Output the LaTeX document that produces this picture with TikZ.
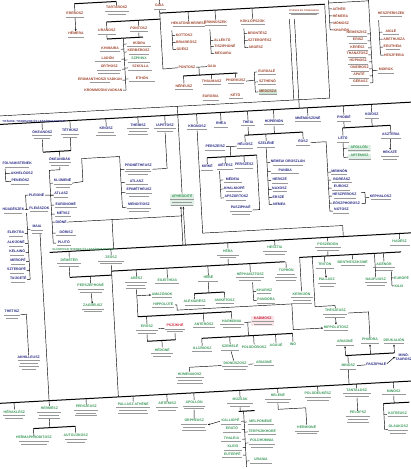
\documentclass[tikz,border=0pt]{standalone}
\usepackage{fontspec}
\setmainfont{Liberation Sans}
\usetikzlibrary{arrows.meta,positioning,calc}
\definecolor{osbarna}{RGB}{158,68,44}
\definecolor{titankek}{RGB}{38,40,130}
\definecolor{olzold}{RGB}{58,152,88}
\definecolor{szerpiros}{RGB}{206,36,62}
\newcommand{\ds}[1]{\\[-1pt]{\color{black!40}\rule{#1pt}{0.8pt}}}

\begin{document}
\begin{tikzpicture}[x=1pt,y=-1pt,
  nev/.style={font=\fontsize{3.5}{3.9}\selectfont\bfseries, inner sep=0.4pt, align=center},
  os/.style={nev, text=osbarna},
  ti/.style={nev, text=titankek},
  ol/.style={nev, text=olzold},
  pir/.style={nev, text=szerpiros},
  kiem/.style={fill=olzold!15},
  felirat/.style={font=\fontsize{2.8}{3}\selectfont\bfseries, inner sep=0.5pt, anchor=south west},
  ag/.style={line width=1pt},
  vonal/.style={line width=0.45pt},
  >={Stealth[length=2pt,width=1.8pt]}
  ]
\useasboundingbox (0,0) rectangle (411,469);
\clip (0,0) rectangle (411,469);
\begin{scope}[rotate around={3.1:(205,235)}]
% sorok
\coordinate (felsosor) at (0,-3);
\coordinate (uranoszsor) at (0,11);
\coordinate (gaiasor) at (0,17);
\coordinate (szornysor) at (0,34);
\coordinate (szornytorzs) at (134,0);
\coordinate (felsovonal) at (0,105);
\coordinate (titansor) at (0,113.5);
\coordinate (olvonal) at (0,244);
\coordinate (alsovonal) at (0,392);

% --- ősök ---
\draw[ag] (87,-3) -- (129,-3);
\node[os] (erebosz) at (87,8) {EREBOSZ\ds{18}};
\node[os] (tartarosz) at (129,6) {TARTAROSZ\ds{24}\ds{18}};
\node[os] (hemera) at (87,28) {HÉMERA\ds{16}};
\node[os] (gaia) at (172,5) {GAIA\ds{12}};
\draw[vonal] (erebosz.north |- felsosor) -- (erebosz.north);
\draw[vonal] (tartarosz.north |- felsosor) -- (tartarosz.north);
\draw[vonal,->] (erebosz) -- (hemera);
\draw[vonal] (gaia.north) -- ++(0,-12);

\node[os] (uranosz) at (118,27) {URANOSZ\ds{18}};
\node[os] (pontosz) at (150,26) {PONTOSZ\ds{18}};
\draw[ag] (uranosz.north |- gaiasor) -- (gaia.south |- gaiasor);
\draw[vonal] (uranosz.north |- gaiasor) -- (uranosz.north);
\draw[vonal] (pontosz.north |- gaiasor) -- (pontosz.north);
\draw[ag] (uranosz.south |- szornysor) -- (154,34);
\draw[vonal] (uranosz.south) -- (uranosz.south |- szornysor);
\draw[vonal] (pontosz.south) -- (pontosz.south |- szornysor);
\draw[vonal] (szornytorzs |- szornysor) -- (134,86);

\node[os, anchor=east] (khimaira) at (131,45) {KHIMAIRA\ds{20}};
\node[os, anchor=east] (ladon) at (131,55) {LADÓN\ds{26}};
\node[os, anchor=east] (orthosz) at (131,65) {ORTHOSZ\ds{24}\ds{22}};
\node[os, anchor=east] (erumanthosz) at (131,76) {ERÜMANTHOSZI VADKAN\ds{20}};
\node[os, anchor=east] (krommuon) at (131,86) {KROMMÜÓNI VADKAN};
\node[os, anchor=west] (hudra) at (137,40) {HÜDRA\ds{24}};
\node[os, anchor=west] (kerberosz) at (137,48) {KERBEROSZ\ds{20}};
\node[ol, anchor=west] (szphinx) at (137,56) {SZPHINX\ds{22}};
\node[os, anchor=west] (szkulla) at (137,64) {SZKÜLLA\ds{24}};
\node[os, anchor=west] (ethon) at (137,75) {ETHÓN\ds{26}};
\draw[vonal] (khimaira.east) -- (khimaira.east -| szornytorzs);
\draw[vonal] (ladon.east) -- (ladon.east -| szornytorzs);
\draw[vonal] (orthosz.east) -- (orthosz.east -| szornytorzs);
\draw[vonal] (erumanthosz.east) -- (erumanthosz.east -| szornytorzs);
\draw[vonal] (krommuon.east) -- (krommuon.east -| szornytorzs);
\draw[vonal] (hudra.west) -- (hudra.west -| szornytorzs);
\draw[vonal] (kerberosz.west) -- (kerberosz.west -| szornytorzs);
\draw[vonal] (szphinx.west) -- (szphinx.west -| szornytorzs);
\draw[vonal] (szkulla.west) -- (szkulla.west -| szornytorzs);
\draw[vonal] (ethon.west) -- (ethon.west -| szornytorzs);

% Gaia és Uranosz gyermekei
\node[os] (hekaton) at (200,24) {HEKATONKHEIRESZ\ds{32}};
\node[os, anchor=west] (kottosz) at (186,34) {KOTTOSZ};
\node[os, anchor=west] (briareosz) at (186,41) {BRIAREÓSZ};
\node[os, anchor=west] (guesz) at (186,48) {GÜÉSZ};
\draw[vonal] (183,29) -- (183,48);
\draw[vonal] (183,34) -- (kottosz.west);
\draw[vonal] (183,41) -- (briareosz.west);
\draw[vonal] (183,48) -- (guesz.west);
\node[os] (erinnuszek) at (227,24) {ERINNÜSZEK\ds{22}};
\node[os, anchor=west] (allekto) at (224,41) {ALLÉKTÓ};
\node[os, anchor=west] (tisziphone) at (224,47) {TISZIPHONÉ};
\node[os, anchor=west] (megaira) at (224,54) {MEGAIRA};
\draw[vonal] (221,30) -- (221,54) -- (megaira.west);
\draw[vonal] (221,41) -- (allekto.west);
\draw[vonal] (221,47) -- (tisziphone.west);
\node[os] (kuklopszok) at (264,25) {KÜKLÓPSZOK\ds{24}};
\node[os, anchor=west] (brontesz) at (258,36) {BRONTÉSZ};
\node[os, anchor=west] (szteropesz) at (258,43) {SZTEROPÉSZ};
\node[os, anchor=west] (argesz) at (258,50) {ARGÉSZ};
\draw[vonal] (255,31) -- (255,50) -- (argesz.west);
\draw[vonal] (255,36) -- (brontesz.west);
\draw[vonal] (255,43) -- (szteropesz.west);
\node[os, font=\fontsize{2.3}{2.7}\selectfont\bfseries] (titanok) at (316,18) {TITÁNOK ÉS TITANISSZOK\ds{30}\ds{26}};
\draw[ag] (gaia.south |- uranoszsor) -- (337,11);
\draw[vonal] (hekaton.north |- uranoszsor) -- (hekaton.north);
\draw[vonal] (erinnuszek.north |- uranoszsor) -- (erinnuszek.north);
\draw[vonal] (kuklopszok.north |- uranoszsor) -- (kuklopszok.north);
\draw[vonal] (337,11) -- (337,105) -- (-12,105);
\draw[vonal] (301,24) -- (301,105);
\draw[vonal] (306,24) -- (306,113.5);

% Pontosz és Gaia
\node[os] (pontosz2) at (196,67) {PONTOSZ};
\node[os] (gaia2) at (221,67) {GAIA};
\draw[vonal] (gaia.south) -- (172,67) -- (pontosz2.west);
\draw[vonal] (pontosz2) -- (gaia2);
\draw[ag] (192,75) -- (246,75);
\draw[vonal] (208,67) -- (208,75);
\node[os] (nereusz) at (192,86) {NÉREUSZ\ds{18}};
\node[os] (thaumasz) at (220,83) {THAUMASZ\ds{18}};
\node[os] (phorkusz) at (244,83) {PHORKÜSZ\ds{16}};
\node[os] (eurubia) at (218,98) {EURÜBIA\ds{16}};
\node[os] (keto) at (243,98) {KÉTÓ\ds{14}};
\draw[vonal] (nereusz.north |- 0,75) -- (nereusz.north);
\draw[vonal] (thaumasz.north |- 0,75) -- (thaumasz.north);
\draw[vonal] (phorkusz.north |- 0,75) -- (phorkusz.north);
\node[os, anchor=west] (euriale) at (266,75) {EURÜALÉ\ds{18}};
\node[os, anchor=west] (szthenno) at (266,85) {SZTHENÓ\ds{18}};
\node[os, anchor=west, fill=olzold!25] (meduza) at (266,95) {MEDÚSZA\ds{18}};
\draw[vonal] (263,75) -- (263,95);
\draw[vonal] (phorkusz.east) -- (263,83);
\draw[vonal] (263,75) -- (euriale.west);
\draw[vonal] (263,85) -- (szthenno.west);
\draw[vonal] (263,95) -- (meduza.west);

% Nüx
\draw[vonal] (341,-12) -- (341,10) -- (381,10) -- (381,-12);
\node[os, anchor=west] (aither) at (344,16) {AITHÉR};
\node[os, anchor=west] (hemera2) at (344,23) {HÉMERA};
\node[os, anchor=west] (momosz) at (344,30) {MÓMOSZ};
\node[os, anchor=west] (kharon) at (344,37) {KHARÓN};
\draw[vonal] (341,10) -- (341,37) -- (kharon.west);
\draw[vonal] (341,16) -- (aither.west);
\draw[vonal] (341,23) -- (hemera2.west);
\draw[vonal] (341,30) -- (momosz.west);
\node[os, anchor=east] (nemeszisz) at (378,43) {NEMESZISZ\ds{20}};
\node[os, anchor=east] (erisz) at (378,50) {ERISZ\ds{18}};
\node[os, anchor=east] (keresz) at (378,57) {KÉRÉSZ\ds{20}};
\node[os, anchor=east] (thanatosz) at (378,64) {THANATOSZ\ds{18}};
\node[os, anchor=east] (hupnosz) at (378,71) {HÜPNOSZ\ds{20}};
\node[os, anchor=east] (oneirosz) at (378,78) {ONEIROSZ\ds{18}};
\node[os, anchor=east] (apate) at (378,85) {APATÉ\ds{20}};
\node[os, anchor=east] (gerasz) at (378,92) {GÉRASZ\ds{18}};
\draw[vonal] (381,10) -- (381,92) -- (gerasz.east);
\draw[vonal] (381,43) -- (nemeszisz.east);
\draw[vonal] (381,50) -- (erisz.east);
\draw[vonal] (381,57) -- (keresz.east);
\draw[vonal] (381,64) -- (thanatosz.east);
\draw[vonal] (381,71) -- (hupnosz.east);
\draw[vonal] (381,78) -- (oneirosz.east);
\draw[vonal] (381,85) -- (apate.east);
\node[os, anchor=west] (moirak) at (386,80) {MOIRÁK\ds{16}};
\draw[vonal] (381,80) -- (moirak.west);
\node[os] (heszperiszek) at (403,25) {HESZPERISZEK\ds{22}};
\node[os, anchor=west] (aigle) at (393,42) {AIGLÉ\ds{16}};
\node[os, anchor=west] (arethusza) at (393,49) {ARETHUSZA};
\node[os, anchor=west] (erutheia) at (393,57) {ERÜTHEIA\ds{14}};
\node[os, anchor=west] (heszperia) at (393,65) {HESZPERIA};
\draw[vonal] (390,30) -- (390,65) -- (heszperia.west);
\draw[vonal] (390,42) -- (aigle.west);
\draw[vonal] (390,49) -- (arethusza.west);
\draw[vonal] (390,57) -- (erutheia.west);

% --- titánok ---
\draw[ag] (-12,113.5) -- (430,113.5);
\node[ti, felirat] (titanfelirat) at (8,112.5) {TITÁNOK, TITANISZOK ÉS LESZÁRMAZOTTAIK};
\node[ti] (okeanosz) at (48,126) {ÓKEANOSZ\ds{20}\ds{16}};
\node[ti] (tethusz) at (76,126) {TÉTHÜSZ\ds{18}\ds{14}};
\node[ti] (kriosz) at (112,126) {KRIOSZ\ds{16}\ds{20}};
\node[ti] (themisz) at (144,126) {THEMISZ\ds{22}\ds{18}\ds{20}};
\node[ti] (iapetosz) at (171,126) {IAPETOSZ\ds{22}\ds{16}};
\node[ti] (kronosz) at (203,127) {KRONOSZ\ds{20}};
\node[ti] (rhea) at (227,126) {RHEA\ds{14}};
\node[ti] (theia) at (254,126) {THEIA\ds{14}};
\node[ti] (huperion) at (280,126) {HÜPERIÓN\ds{20}};
\node[ti] (mnemoszune) at (314,125) {MNÉMOSZÜNÉ\ds{26}};
\node[ti] (phoibe) at (350,126) {PHOIBÉ\ds{14}};
\node[ti] (koiosz) at (378,125) {KOIOSZ\ds{14}};
\draw[vonal] (okeanosz.north |- titansor) -- (okeanosz.north);
\draw[vonal] (tethusz.north |- titansor) -- (tethusz.north);
\draw[vonal] (kriosz.north |- titansor) -- (kriosz.north);
\draw[vonal] (themisz.north |- titansor) -- (themisz.north);
\draw[vonal] (iapetosz.north |- titansor) -- (iapetosz.north);
\draw[vonal] (kronosz.north |- titansor) -- (kronosz.north);
\draw[vonal] (rhea.north |- titansor) -- (rhea.north);
\draw[vonal] (theia.north |- titansor) -- (theia.north);
\draw[vonal] (huperion.north |- titansor) -- (huperion.north);
\draw[vonal] (mnemoszune.north |- titansor) -- (mnemoszune.north);
\draw[vonal] (phoibe.north |- titansor) -- (phoibe.north);
\draw[vonal] (koiosz.north |- titansor) -- (koiosz.north);

% Ókeanosz és Téthüsz
\draw[ag] (okeanosz.south |- 0,143.5) -- (tethusz.south |- 0,143.5);
\draw[vonal] (okeanosz.south) -- (okeanosz.south |- 0,143.5);
\draw[vonal] (tethusz.south) -- (tethusz.south |- 0,143.5);
\node[ti] (okeanidak) at (64,154) {ÓKEANIDÁK\ds{22}\ds{18}};
\draw[vonal] (okeanidak.north |- 0,143.5) -- (okeanidak.north);
\node[ti, anchor=west] (folyamistenek) at (6,154) {FOLYAMISTENEK\ds{24}};
\node[ti, anchor=west] (akheloosz) at (14,163) {AKHELÓOSZ};
\node[ti, anchor=west] (peneiosz) at (14,171) {PENEIÓSZ\ds{18}};
\draw[vonal] (9,158) |- (peneiosz.west);
\draw[vonal] (9,163) -- (akheloosz.west);

\coordinate (okeanidatorzs) at (53,0);
\draw[vonal] (okeanidak.south) |- (53,162) -- (53,235);
\node[ti, anchor=west] (klumene) at (56,175) {KLÜMENÉ\ds{18}\ds{14}};
\node[ti, anchor=west] (atlasz) at (56,187) {ATLASZ\ds{14}};
\node[ti, anchor=west] (eurunome) at (56,197) {EURÜNOMÉ\ds{22}};
\node[ti, anchor=west] (metisz) at (56,206) {MÉTISZ\ds{16}};
\node[ti, anchor=west] (dione) at (56,214) {DIÓNÉ};
\node[ti, anchor=west] (dorisz) at (56,225) {DÓRISZ\ds{20}};
\node[ti, anchor=west] (pluto) at (56,235) {PLUTÓ\ds{14}};
\draw[vonal] (klumene.west) -- (klumene.west -| okeanidatorzs);
\draw[vonal] (atlasz.west) -- (atlasz.west -| okeanidatorzs);
\draw[vonal] (eurunome.west) -- (eurunome.west -| okeanidatorzs);
\draw[vonal] (metisz.west) -- (metisz.west -| okeanidatorzs);
\draw[vonal] (dione.west) -- (dione.west -| okeanidatorzs);
\draw[vonal] (dorisz.west) -- (dorisz.west -| okeanidatorzs);
\draw[vonal] (pluto.west) -- (pluto.west -| okeanidatorzs);

\node[ti] (pleione) at (39,186) {PLEIONÉ};
\draw[vonal] (pleione) -- (atlasz);
\node[ti] (huadeszek) at (15,200) {HÜADÉSZEK\ds{18}};
\node[ti] (pleiaszok) at (41,200) {PLEIÁSZOK\ds{18}};
\draw[vonal] (huadeszek) -- (pleiaszok);
\draw[vonal] (pleione.west) -| (28,200);
\coordinate (pleiasztorzs) at (28,0);
\node[ti, anchor=west] (maia) at (31,220) {MAIA\ds{12}\ds{10}};
\node[ti, anchor=east] (elektra) at (25,224) {ELEKTRA\ds{14}};
\node[ti, anchor=east] (alkuone) at (25,234) {ALKÜONÉ\ds{14}};
\node[ti, anchor=east] (kelaino) at (25,243) {KELAINÓ\ds{14}};
\node[ti, anchor=east] (merope) at (25,252) {MEROPÉ\ds{14}};
\node[ti, anchor=east] (szterope) at (25,261) {SZTEROPÉ\ds{14}};
\node[ti, anchor=east] (taugete) at (25,270) {TAÜGETÉ\ds{14}};
\draw[vonal] (pleiaszok.south -| pleiasztorzs) -- (pleiasztorzs |- taugete.east);
\draw[vonal] (pleiasztorzs |- maia.west) -- (maia.west);
\draw[vonal] (pleiasztorzs |- elektra.east) -- (elektra.east);
\draw[vonal] (pleiasztorzs |- alkuone.east) -- (alkuone.east);
\draw[vonal] (pleiasztorzs |- kelaino.east) -- (kelaino.east);
\draw[vonal] (pleiasztorzs |- merope.east) -- (merope.east);
\draw[vonal] (pleiasztorzs |- szterope.east) -- (szterope.east);
\draw[vonal] (pleiasztorzs |- taugete.east) -- (taugete.east);

\node[ti] (thetisz) at (8,304) {THETISZ\ds{16}\ds{12}};
\node[ti] (akhilleusz) at (22,353) {AKHILLEUSZ\ds{22}\ds{18}\ds{20}\ds{14}};
\draw[vonal] (thetisz.east) -| (akhilleusz.north);

% Iapetosz
\coordinate (iapetosztorzs) at (124,0);
\node[ti, anchor=west] (prometheusz) at (128,165) {PROMÉTHEUSZ\ds{24}\ds{26}\ds{20}};
\node[ti, anchor=west] (atlasz2) at (128,178) {ATLASZ\ds{22}};
\node[ti, anchor=west] (epimetheusz) at (128,188) {EPIMÉTHEUSZ\ds{26}\ds{20}};
\node[ti, anchor=west] (menoitiosz) at (128,203) {MENOITIOSZ\ds{24}\ds{20}};
\draw[vonal] (klumene.east) -- (86,175) -- (86,152) -- (124,152) -- (iapetosztorzs |- menoitiosz.west);
\draw[vonal] (iapetosztorzs |- prometheusz.west) -- (prometheusz.west);
\draw[vonal] (iapetosztorzs |- atlasz2.west) -- (atlasz2.west);
\draw[vonal] (iapetosztorzs |- epimetheusz.west) -- (epimetheusz.west);
\draw[vonal] (iapetosztorzs |- menoitiosz.west) -- (menoitiosz.west);
\draw[vonal] (iapetosz.south) |- (prometheusz.east);

% Aphrodité
\node[ol, kiem] (aphrodite) at (184,199) {APHRODITÉ\ds{24}\ds{20}\ds{22}};
\draw[vonal] (aphrodite.north |- felsovonal) -- (aphrodite.north);
\draw[vonal,<-] ($(aphrodite.south)+(-1.2,0)$) -- ($(aphrodite.south |- olvonal)+(-1.2,0)$);
\draw[vonal,<-] ($(aphrodite.south)+(1.2,0)$) -- ($(aphrodite.south |- olvonal)+(1.2,0)$);
\draw[vonal] (dione.east) -- (dione.east -| aphrodite.south);
\draw[vonal] (113,214) -- (113,244);

% Theia és Hüperión
\node[ti] (heliosz) at (250,148) {HÉLIOSZ\ds{16}};
\node[ti] (perszeisz) at (220,148) {PERSZEÍSZ\ds{20}};
\node[ti] (szelene) at (271,148) {SZELÉNÉ\ds{18}};
\node[ti] (eosz) at (308,148) {ÉOSZ\ds{14}};
\draw[vonal] (theia.south) -- (theia.south |- 0,137.5);
\draw[vonal] (huperion.south) -- (huperion.south |- 0,137.5);
\draw[ag] (heliosz.north |- 0,137.5) -- (eosz.north |- 0,137.5);
\draw[vonal] (heliosz.north |- 0,137.5) -- (heliosz.north);
\draw[vonal] (szelene.north |- 0,137.5) -- (szelene.north);
\draw[vonal] (eosz.north |- 0,137.5) -- (eosz.north);
\draw[vonal] (perszeisz) -- (heliosz);
\node[ti] (kirke) at (211,168) {KIRKÉ\ds{12}};
\node[ti] (aietesz) at (229,168) {AIÉTÉSZ\ds{16}};
\node[ti] (perszesz) at (248,168) {PERSZÉSZ\ds{18}};
\draw[ag] (kirke.north |- 0,158) -- (261,158);
\draw[vonal] (235,148) -- (235,158);
\draw[vonal] (kirke.north |- 0,158) -- (kirke.north);
\draw[vonal] (aietesz.north |- 0,158) -- (aietesz.north);
\draw[vonal] (perszesz.north |- 0,158) -- (perszesz.north);
\node[ti, anchor=west] (medeia) at (226,181) {MÉDEIA\ds{18}};
\node[ti, anchor=west] (khalkiope) at (226,190) {KHALKIOPÉ\ds{16}};
\node[ti, anchor=west] (apszurtosz) at (226,199) {APSZÜRTOSZ\ds{20}};
\draw[vonal] (223,172) |- (apszurtosz.west);
\draw[vonal] (223,181) -- (medeia.west);
\draw[vonal] (223,190) -- (khalkiope.west);
\node[ti] (pasziphae) at (242,212) {PASZIPHAÉ\ds{22}\ds{18}};
\draw[vonal] (261,158) |- (pasziphae.east);

\node[ti, anchor=west] (nemeai) at (274,166) {NEMEAI OROSZLÁN\ds{30}};
\node[ti, anchor=west] (pandia) at (274,175) {PANDIA\ds{28}};
\node[ti, anchor=west] (hersze) at (274,184) {HERSZÉ\ds{16}};
\node[ti, anchor=west] (naxosz) at (274,193) {NAXOSZ\ds{14}};
\node[ti, anchor=west] (ersze) at (274,201) {ERSZÉ};
\node[ti, anchor=west] (nemea) at (274,208) {NEMEA};
\draw[vonal] (szelene.south) -- (szelene.south |- nemea.west) -- (nemea.west);
\draw[vonal] (szelene.south |- nemeai.west) -- (nemeai.west);
\draw[vonal] (szelene.south |- pandia.west) -- (pandia.west);
\draw[vonal] (szelene.south |- hersze.west) -- (hersze.west);
\draw[vonal] (szelene.south |- naxosz.west) -- (naxosz.west);
\draw[vonal] (szelene.south |- ersze.west) -- (ersze.west);

\coordinate (eosztorzs) at (331,0);
\node[ti, anchor=west] (memnon) at (334,179) {MEMNÓN\ds{16}};
\node[ti, anchor=west] (boreasz) at (334,187) {BOREÁSZ\ds{20}};
\node[ti, anchor=west] (eurosz) at (334,195) {EUROSZ\ds{18}};
\node[ti, anchor=west] (heszperosz) at (334,203) {HESZPEROSZ\ds{22}};
\node[ti, anchor=west] (eoszphorosz) at (334,210) {EÓSZPHOROSZ};
\node[ti, anchor=west] (notosz) at (334,218) {NOTOSZ\ds{16}};
\draw[vonal] (eosz.east) -| (eosztorzs |- notosz.west) -- (notosz.west);
\draw[vonal] (eosztorzs |- memnon.west) -- (memnon.west);
\draw[vonal] (eosztorzs |- boreasz.west) -- (boreasz.west);
\draw[vonal] (eosztorzs |- eurosz.west) -- (eurosz.west);
\draw[vonal] (eosztorzs |- heszperosz.west) -- (heszperosz.west);
\draw[vonal] (eosztorzs |- eoszphorosz.west) -- (eoszphorosz.west);
\node[ti, anchor=west] (kephalosz) at (371,206.5) {KEPHALOSZ\ds{20}};
\draw[vonal] (363,201) -- (367,201) -- (367,212) -- (363,212);
\draw[vonal] (367,206.5) -- (kephalosz.west);

% Phoibé és Koiosz
\node[ti] (leto) at (348,147) {LÉTÓ\ds{12}};
\node[ti] (aszteria) at (396,146) {ASZTERIA\ds{20}};
\draw[vonal] (phoibe.south) -- (phoibe.south |- 0,135.5);
\draw[vonal] (koiosz.south) -- (koiosz.south |- 0,135.5);
\draw[ag] (leto.north |- 0,135.5) -- (aszteria.north |- 0,135.5);
\draw[vonal] (leto.north |- 0,135.5) -- (leto.north);
\draw[vonal] (aszteria.north |- 0,135.5) -- (aszteria.north);
\node[ol, kiem, anchor=west] (apollon1) at (352,156) {APOLLÓN\ds{22}};
\node[ol, kiem, anchor=west] (artemisz1) at (352,165) {ARTEMISZ\ds{22}};
\draw[vonal] (leto.south) |- (artemisz1.west);
\draw[vonal] (leto.south |- apollon1.west) -- (apollon1.west);
\node[ti] (hekate) at (394,165) {HEKATÉ\ds{18}\ds{14}};
\draw[vonal,->] (aszteria) -- (hekate);

% Kronosz és Rhea
\draw[vonal] (kronosz.south) -- (kronosz.south |- 0,233) -- (343,233) -- (343,244);

% --- olümposziak ---
\draw[ag] (49,244) -- (430,244);
\node[ol, felirat] (olfelirat) at (51,243) {OLÜMPOSZI ISTENEK ÉS LESZÁRMAZOTTAIK};
\node[ol] (demeter) at (68,255) {DÉMÉTÉR\ds{24}\ds{20}};
\node[ol] (zeusz) at (110,255) {ZEUSZ\ds{26}\ds{22}};
\node[ol] (hera) at (227,255) {HÉRA\ds{22}\ds{16}};
\node[ol] (hesztia) at (274,254) {HESZTIA\ds{24}\ds{20}};
\node[ol] (poszeidon) at (327,253) {POSZEIDÓN\ds{26}\ds{22}};
\node[ol] (hadesz) at (399,253) {HADÉSZ\ds{20}};
\draw[vonal] (demeter.north |- olvonal) -- (demeter.north);
\draw[vonal] (zeusz.north |- olvonal) -- (zeusz.north);
\draw[vonal] (hera.north |- olvonal) -- (hera.north);
\draw[vonal] (hesztia.north |- olvonal) -- (hesztia.north);
\draw[vonal] (poszeidon.north |- olvonal) -- (poszeidon.north);
\draw[vonal] (hadesz.north |- olvonal) -- (hadesz.north);
\draw[vonal] (zeusz.south) -- (zeusz.south |- alsovonal);

% Démétér és Zeusz
\draw[ag] (demeter.south |- 0,270) -- (zeusz.south |- 0,270);
\draw[vonal] (demeter.south) -- (demeter.south |- 0,270);
\node[ol] (perszephone) at (88,282) {PERSZEPHONÉ\ds{26}\ds{22}};
\node[ol] (zagreusz) at (89,302) {ZAGREUSZ\ds{22}\ds{18}};
\draw[vonal] (perszephone.north |- 0,270) -- (perszephone.north);
\draw[vonal,->] (perszephone) -- (zagreusz);

% Zeusz és Héra
\draw[ag] (zeusz.south |- 0,266) -- (283,266);
\draw[vonal] (hera.south) -- (hera.south |- 0,266);
\node[ol] (aresz) at (134,279) {ARÉSZ\ds{22}\ds{18}\ds{20}};
\node[ol] (eileithuia) at (165,279) {EILEITHÜIA\ds{24}};
\node[ol] (hebe) at (206,279) {HÉBÉ\ds{20}};
\node[ol] (hephaisztosz) at (248,279) {HÉPHAISZTOSZ\ds{28}\ds{22}};
\node[ol] (tuphon) at (284,279) {TÜPHÓN\ds{18}\ds{22}\ds{20}};
\draw[vonal] (aresz.north |- 0,266) -- (aresz.north);
\draw[vonal] (eileithuia.north |- 0,266) -- (eileithuia.north);
\draw[vonal] (hebe.north |- 0,266) -- (hebe.north);
\draw[vonal] (hephaisztosz.north |- 0,266) -- (hephaisztosz.north);
\draw[vonal] (tuphon.north |- 0,266) -- (tuphon.north);
\node[ol, anchor=west] (amazonok) at (148,292) {AMAZÓNOK\ds{20}};
\node[ol, anchor=west] (hippolute) at (148,302) {HIPPOLÜTÉ\ds{22}};
\draw[vonal,->] (aresz.south |- amazonok.west) -- (amazonok.west);

\node[ol] (alexiaresz) at (191,302) {ALEXIARÉSZ\ds{20}};
\node[ol] (aniketosz) at (221,302) {ANIKÉTOSZ\ds{18}};
\draw[vonal] (hebe.south) -- (hebe.south |- 0,293);
\draw[ag] (alexiaresz.north |- 0,293) -- (aniketosz.north |- 0,293);
\draw[vonal] (alexiaresz.north |- 0,293) -- (alexiaresz.north);
\draw[vonal] (aniketosz.north |- 0,293) -- (aniketosz.north);
\node[ol, anchor=west] (kharisz) at (253,294) {KHARISZ\ds{14}};
\node[ol, anchor=west] (pandora) at (253,303) {PANDÓRA\ds{18}};
\draw[vonal] (250,285) |- (pandora.west);
\draw[vonal] (250,294) -- (kharisz.west);

% Arész gyermekei
\node[ol] (erosz) at (142,326) {ERÓSZ\ds{22}\ds{18}};
\node[pir] (pszukhe) at (170,326) {PSZÜKHÉ\ds{20}\ds{16}};
\node[ol] (anterosz) at (199,325) {ANTERÓSZ\ds{22}};
\node[ol] (harmonia) at (227,325) {HARMONIA\ds{24}\ds{18}};
\node[pir, fill=szerpiros!12] (kadmosz) at (258,324) {KADMOSZ\ds{22}\ds{18}};
\draw[vonal] (aresz.south) -- (aresz.south |- 0,313);
\draw[ag] (aresz.south |- 0,313) -- (harmonia.north |- 0,313);
\draw[vonal] (erosz.north |- 0,313) -- (erosz.north);
\draw[vonal] (anterosz.north |- 0,313) -- (anterosz.north);
\draw[vonal] (harmonia.north |- 0,313) -- (harmonia.north);
\draw[vonal] (erosz) -- (pszukhe);
\draw[vonal] (harmonia) -- (kadmosz);

\node[ol] (hedone) at (156,350) {HÉDONÉ\ds{22}\ds{18}};
\draw[vonal] (erosz.south) -- (erosz.south |- 0,338);
\draw[vonal] (pszukhe.south) -- (pszukhe.south |- 0,338);
\draw[ag] (erosz.south |- 0,338) -- (pszukhe.south |- 0,338);
\draw[vonal] (hedone.north |- 0,338) -- (hedone.north);

\node[ol] (illuriosz) at (196,349) {ILLÜRIOSZ\ds{20}};
\node[ol] (szemele) at (224,349) {SZEMELÉ\ds{18}};
\node[ol] (poludorosz) at (248,349) {POLÜDÓROSZ};
\node[ol] (agaue) at (270,349) {AGAUÉ};
\node[ol] (ino) at (287,349) {INÓ};
\coordinate (hk) at ($(harmonia.east)!0.5!(kadmosz.west)$);
\draw[vonal] (hk) -- (hk |- 0,338);
\draw[ag] (illuriosz.north |- 0,338) -- (ino.north |- 0,338);
\draw[vonal] (illuriosz.north |- 0,338) -- (illuriosz.north);
\draw[vonal] (szemele.north |- 0,338) -- (szemele.north);
\draw[vonal] (poludorosz.north |- 0,338) -- (poludorosz.north);
\draw[vonal] (agaue.north |- 0,338) -- (agaue.north);
\draw[vonal] (ino.north |- 0,338) -- (ino.north);
\node[ol] (dionuszosz) at (228,367) {DIONÜSZOSZ\ds{26}\ds{22}};
\node[ol] (ariadne) at (257,366) {ARIADNÉ\ds{20}};
\node[ol] (humenaiosz) at (182,377) {HÜMENAIOSZ\ds{28}\ds{24}\ds{26}};
\draw[vonal] (szemele) -- (dionuszosz);
\draw[vonal] (dionuszosz) -- (ariadne);
\draw[vonal] (dionuszosz.west) -| (humenaiosz.north);

% Poszeidón
\draw[vonal] (poszeidon.south) -- (poszeidon.south |- 0,262.5);
\draw[ag] (298,262.5) -- (400,262.5);
\node[ol] (triton) at (323,272) {TRITÓN\ds{18}};
\node[ol] (benthesz) at (351,271) {BENTHESZIKÜMÉ\ds{24}};
\node[ol] (pallasz) at (324,289) {PALLASZ\ds{18}\ds{14}};
\node[ol] (nauplios) at (373,291) {NAUPLIOSZ\ds{22}\ds{18}};
\node[ol] (agenor) at (382,276) {AGÉNÓR\ds{22}\ds{18}};
\node[ol] (kerkuon) at (298,303) {KERKÜÓN\ds{22}\ds{18}\ds{20}};
\draw[vonal] (triton.north |- 0,262.5) -- (triton.north);
\draw[vonal] (benthesz.north |- 0,262.5) -- (benthesz.north);
\draw[vonal] (nauplios.north |- 0,262.5) -- (nauplios.north);
\draw[vonal] (agenor.north |- 0,262.5) -- (agenor.north);
\draw[vonal] (kerkuon.north |- 0,262.5) -- (kerkuon.north);
\draw[vonal,->] (triton) -- (pallasz);
\node[ol, anchor=west] (europe) at (391,288) {EURÓPÉ};
\node[ol, anchor=west] (kilix) at (391,296) {KILIX};
\draw[vonal] (389,281) |- (kilix.west);
\draw[vonal] (389,288) -- (europe.west);
\node[ol] (theszeusz) at (331,320) {THÉSZEUSZ\ds{24}\ds{20}};
\node[ol] (hippolutosz) at (331,335) {HIPPOLÜTOSZ\ds{24}};
\draw[vonal] (311,262.5) |- (331,312.5) -- (theszeusz.north);
\draw[vonal,->] (theszeusz) -- (hippolutosz);
\draw[vonal,->] (hippolute.east) -- ++(2,0) |- (288,308.5) |- (hippolutosz.west);

% Minósz
\node[ol] (ariadne2) at (339,350) {ARIADNÉ\ds{18}};
\node[ol] (phaidra) at (364,350) {PHAIDRA\ds{18}};
\node[ol] (deukalion) at (388,351) {DEUKALIÓN\ds{20}};
\draw[vonal] (theszeusz.east) -| (phaidra.north);
\draw[ag] (ariadne2.south |- 0,363) -- (deukalion.south |- 0,363);
\draw[vonal,->] (ariadne2.south |- 0,363) -- (ariadne2.south);
\draw[vonal,->] (phaidra.south |- 0,363) -- (phaidra.south);
\draw[vonal,->] (deukalion.south |- 0,363) -- (deukalion.south);
\node[ol] (minosz2) at (341,374) {MINÓSZ\ds{16}};
\node[ti] (pasziphae2) at (369,373) {PASZIPHAÉ};
\node[ti, anchor=west] (minotaurosz) at (388,367) {MINÓ-\\TAUROSZ};
\draw[vonal] (minosz2) -- (pasziphae2);
\draw[vonal,->] (pasziphae2.east) -- (minotaurosz.west);
\draw[vonal] (minosz2.north |- 0,363) -- (minosz2.north);
\draw[vonal] (minosz2.south) -- (minosz2.south |- alsovonal);

% --- alsó sor: Zeusz gyermekei ---
\draw[ag] (-12,392) -- (430,392);
\node[ol] (heraklesz) at (5,404) {HÉRAKLÉSZ\ds{22}\ds{18}};
\node[ol] (hermesz) at (40,404) {HERMÉSZ\ds{24}\ds{20}\ds{22}};
\node[ol] (perszeusz) at (77,404) {PERSZEUSZ\ds{24}\ds{20}\ds{22}};
\node[ol] (athene) at (124,404) {PALLASZ ATHÉNÉ\ds{34}\ds{28}\ds{30}};
\node[ol] (artemisz) at (158,404) {ARTEMISZ\ds{22}\ds{18}};
\node[ol] (apollon) at (185,404) {APOLLÓN\ds{22}\ds{20}};
\node[ol] (muzsak) at (231,404) {MÚZSÁK\ds{26}\ds{20}};
\node[ol] (helene) at (269,402) {HELENÉ\ds{26}\ds{22}};
\node[ol] (poludeukesz) at (309,402) {POLÜDEUKÉSZ\ds{26}\ds{22}};
\node[ol] (tantalosz) at (348,401) {TANTALOSZ\ds{28}\ds{24}};
\node[ol] (minosz) at (385,402) {MINÓSZ\ds{24}};
\draw[vonal] (heraklesz.north |- alsovonal) -- (heraklesz.north);
\draw[vonal] (maia.south -| hermesz.north) -- (hermesz.north);
\draw[vonal] (perszeusz.north |- alsovonal) -- (perszeusz.north);
\draw[vonal] (athene.north |- alsovonal) -- (athene.north);
\draw[vonal] (artemisz.north |- alsovonal) -- (artemisz.north);
\draw[vonal] (apollon.north |- alsovonal) -- (apollon.north);
\draw[vonal] (muzsak.north |- alsovonal) -- (muzsak.north);
\draw[vonal] (helene.north |- alsovonal) -- (helene.north);
\draw[vonal] (poludeukesz.north |- alsovonal) -- (poludeukesz.north);
\draw[vonal] (tantalosz.north |- alsovonal) -- (tantalosz.north);
\draw[vonal] (minosz.north |- alsovonal) -- (minosz.north);

\node[ol] (hermaphroditosz) at (23,431) {HERMAPHRODITOSZ\ds{30}\ds{26}};
\node[ol] (autolukosz) at (65,431) {AUTOLÜKOSZ\ds{22}\ds{18}};
\draw[vonal] (hermesz.south) -- (hermesz.south |- 0,419);
\draw[ag] (hermaphroditosz.north |- 0,419) -- (autolukosz.north |- 0,419);
\draw[vonal] (hermaphroditosz.north |- 0,419) -- (hermaphroditosz.north);
\draw[vonal] (autolukosz.north |- 0,419) -- (autolukosz.north);

\node[ol] (orpheusz) at (184,424) {ORPHEUSZ\ds{26}\ds{22}\ds{24}};
\draw[vonal] (apollon) -- (orpheusz);

\coordinate (muzsatorzs) at (234,0);
\draw[vonal] (muzsak.south) -- (muzsak.south |- 0,413);
\draw[ag] (229,413) -- (245,413);
\draw[vonal] (muzsatorzs |- 0,413) -- (234,469);
\node[ol, anchor=east] (kalliope) at (231,423) {KALLIOPÉ\ds{20}};
\node[ol, anchor=east] (erato) at (231,431.5) {ERATÓ\ds{18}};
\node[ol, anchor=east] (thaleia) at (231,441) {THALEIA\ds{20}};
\node[ol, anchor=east] (kleio) at (231,449.5) {KLEIÓ\ds{18}};
\node[ol, anchor=east] (euterpe) at (231,457) {EUTERPÉ\ds{20}};
\node[ol, anchor=west] (melpomene) at (237,424) {MELPOMENÉ\ds{26}};
\node[ol, anchor=west] (terpszikhore) at (237,434) {TERPSZIKHORÉ\ds{28}};
\node[ol, anchor=west] (poluhumnia) at (237,445) {POLÜHÜMNIA\ds{26}\ds{22}};
\node[ol, anchor=west] (urania) at (237,463) {URANIA\ds{22}};
\draw[vonal] (kalliope.east) -- (kalliope.east -| muzsatorzs);
\draw[vonal] (erato.east) -- (erato.east -| muzsatorzs);
\draw[vonal] (thaleia.east) -- (thaleia.east -| muzsatorzs);
\draw[vonal] (kleio.east) -- (kleio.east -| muzsatorzs);
\draw[vonal] (euterpe.east) -- (euterpe.east -| muzsatorzs);
\draw[vonal] (melpomene.west) -- (melpomene.west -| muzsatorzs);
\draw[vonal] (terpszikhore.west) -- (terpszikhore.west -| muzsatorzs);
\draw[vonal] (poluhumnia.west) -- (poluhumnia.west -| muzsatorzs);
\draw[vonal] (urania.west) -- (urania.west -| muzsatorzs);
\draw[vonal,->] (kalliope.west) -- (orpheusz.east);

\node[ol] (hermione) at (296,435) {HERMIONÉ\ds{24}\ds{20}};
\draw[vonal] (helene.south) -- ++(0,6) -| (hermione.north);
\node[ol] (pelopsz) at (348,425) {PELOPSZ\ds{24}\ds{20}\ds{22}};
\draw[vonal] (tantalosz) -- (pelopsz);

\coordinate (minosztorzs) at (374,0);
\draw[vonal] (minosz.south) -- (minosz.south |- 0,413);
\draw[ag] (374,413) -- (400,413);
\node[ol, anchor=west] (katreusz) at (377,424) {KATREUSZ\ds{20}};
\node[ol, anchor=west] (glaukosz) at (377,439) {GLAUKOSZ\ds{20}\ds{16}};
\draw[vonal] (minosztorzs |- 0,413) -- (minosztorzs |- glaukosz.west) -- (glaukosz.west);
\draw[vonal] (minosztorzs |- katreusz.west) -- (katreusz.west);
\end{scope}
\end{tikzpicture}
\end{document}
